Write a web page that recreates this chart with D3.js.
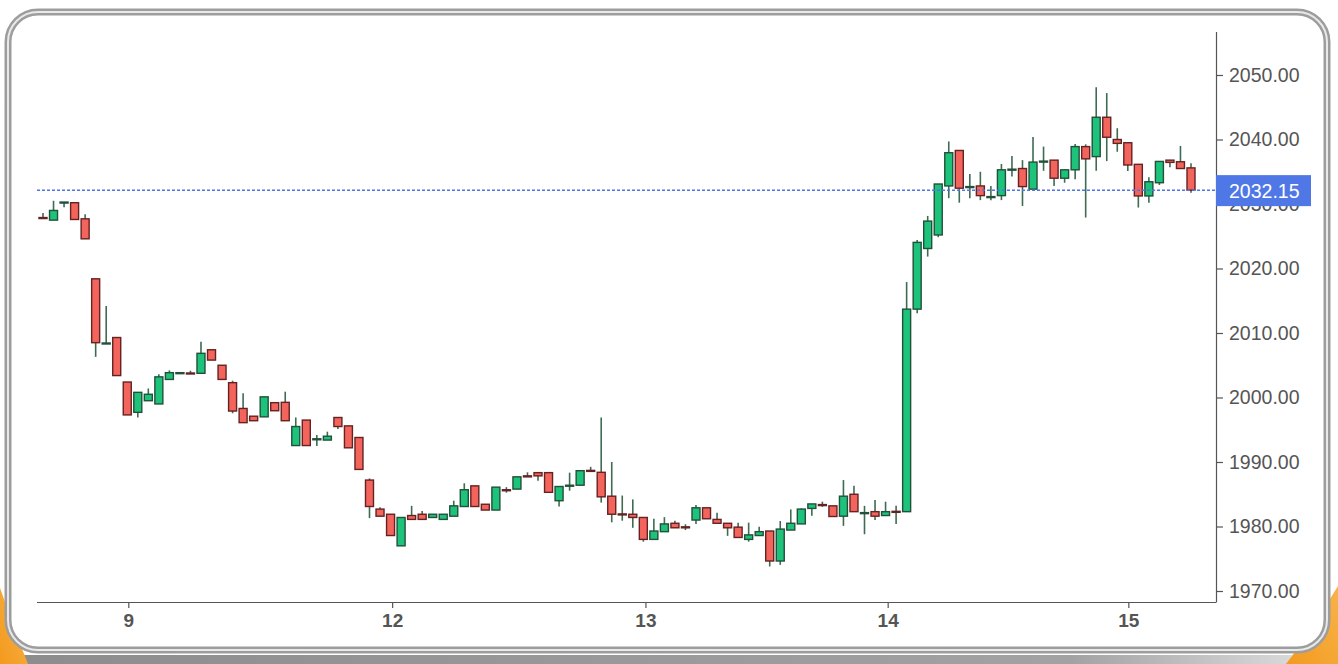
<!DOCTYPE html>
<html>
<head>
<meta charset="utf-8">
<script src="https://cdn.jsdelivr.net/npm/d3@7"></script>
<style>
	body { margin: 0; background: #fff; }
	svg { display: block; }
	text { font-family: "Liberation Sans", Arial, sans-serif; }
</style>
</head>
<body>
<svg id="chart" width="1338" height="664"></svg>
<script>
var opens = [2027.9,2027.5,2030.2,2030.2,2027.7,2018.4,2008.4,2009.3,2002.4,1997.7,
	1999.5,1999.0,2002.8,2003.8,2003.8,2003.75,2007.4,2005.0,2002.3,1998.3,
	1997.1,1997.0,1999.2,1999.25,1992.55,1996.5,1993.55,1993.4,1996.9,1995.6,
	1993.8,1987.2,1982.7,1981.9,1977.0,1981.7,1981.9,1981.4,1981.1,1981.6,
	1983.1,1986.3,1983.45,1982.55,1985.7,1985.8,1987.85,1988.35,1988.35,1984.0,
	1986.35,1986.4,1988.7,1988.4,1984.7,1981.95,1981.9,1981.4,1978.0,1979.2,
	1980.5,1979.95,1981.0,1982.9,1981.1,1980.5,1979.9,1978.0,1978.6,1979.3,
	1974.65,1979.45,1980.4,1982.8,1983.4,1983.2,1981.6,1985.0,1982.1,1982.3,
	1981.7,1982.35,1982.3,2013.7,2023.1,2025.2,2032.8,2038.3,2032.65,2032.8,
	2031.1,2031.3,2035.35,2035.5,2032.3,2036.6,2036.8,2034.0,2035.3,2038.9,
	2037.35,2043.45,2040.0,2039.5,2036.15,2031.25,2033.3,2036.8,2036.55,2035.6];
var highs = [2028.6,2030.5,2030.3,2030.2,2028.4,2018.4,2014.2,2009.3,2002.4,2000.8,
	2001.4,2003.6,2004.2,2003.85,2004.15,2008.65,2007.4,2005.0,2002.6,2000.65,
	1997.1,2000.1,1999.2,2000.9,1996.9,1996.5,1994.2,1994.7,1996.9,1995.6,
	1993.8,1987.45,1983.0,1981.9,1981.4,1983.2,1982.4,1981.9,1981.9,1984.0,
	1986.7,1986.3,1983.45,1986.1,1986.1,1987.7,1988.4,1988.35,1988.35,1986.2,
	1988.35,1988.65,1989.25,1996.9,1990.0,1984.8,1984.2,1981.4,1981.2,1981.45,
	1980.9,1980.35,1983.35,1982.9,1982.15,1980.5,1980.6,1980.6,1979.95,1979.3,
	1980.85,1982.65,1982.8,1983.5,1983.85,1983.2,1987.2,1986.3,1983.2,1984.1,
	1983.85,1983.2,2017.9,2024.4,2028.15,2033.1,2039.7,2038.3,2034.65,2035.0,
	2032.8,2036.2,2037.45,2036.8,2040.4,2038.9,2036.8,2035.3,2039.3,2039.25,
	2048.1,2047.2,2041.75,2039.5,2036.15,2034.15,2036.6,2036.8,2039.0,2036.3];
var lows = [2027.85,2027.5,2029.5,2027.6,2024.6,2006.3,2008.4,2003.4,1997.3,1996.9,
	1999.5,1999.0,2002.8,2003.8,2003.75,2003.75,2005.8,2002.8,1997.55,1996.1,
	1996.4,1997.0,1997.95,1996.4,1992.55,1992.55,1992.5,1993.4,1995.1,1992.2,
	1988.85,1981.3,1981.6,1978.6,1977.0,1981.1,1981.1,1981.4,1981.1,1981.6,
	1983.1,1983.1,1982.55,1982.55,1985.25,1985.8,1987.8,1987.1,1985.3,1983.1,
	1985.55,1986.4,1988.65,1983.7,1980.65,1980.9,1979.8,1977.65,1978.0,1979.2,
	1979.8,1979.45,1980.4,1981.2,1980.5,1978.55,1978.3,1977.65,1978.6,1973.8,
	1974.05,1979.45,1980.4,1981.65,1983.05,1981.55,1980.1,1982.3,1978.8,1981.0,
	1981.7,1980.4,1982.3,2013.05,2021.85,2024.85,2030.9,2030.2,2030.9,2030.6,
	2030.6,2030.6,2034.25,2029.7,2032.3,2035.15,2032.8,2033.3,2033.85,2027.9,
	2035.15,2036.65,2038.1,2035.1,2029.45,2030.2,2032.95,2035.7,2035.5,2031.75];
var closes = [2027.85,2029.0,2030.3,2027.6,2024.6,2008.5,2008.45,2003.4,1997.3,2000.8,
	2000.5,2003.2,2003.85,2003.85,2003.75,2006.85,2005.8,2002.8,1997.9,1996.1,
	1996.4,2000.1,1997.95,1996.4,1995.5,1992.55,1993.6,1994.0,1995.5,1992.2,
	1988.85,1983.1,1981.6,1978.6,1981.4,1981.1,1981.1,1981.9,1981.9,1983.2,
	1985.7,1983.1,1982.55,1986.1,1985.65,1987.7,1987.8,1987.85,1985.3,1986.2,
	1986.4,1988.65,1988.65,1984.6,1981.9,1981.9,1981.4,1978.0,1979.3,1980.4,
	1979.8,1979.9,1982.9,1981.2,1980.5,1979.8,1978.3,1978.7,1979.2,1974.65,
	1979.6,1980.5,1982.7,1983.5,1983.35,1981.55,1984.7,1982.3,1982.15,1981.6,
	1982.3,1982.3,2013.7,2024.05,2027.35,2033.1,2037.95,2032.45,2032.7,2031.3,
	2031.15,2035.3,2035.4,2032.7,2036.5,2036.65,2034.0,2035.3,2038.9,2037.0,
	2043.45,2040.35,2039.4,2036.05,2031.25,2033.45,2036.6,2036.45,2035.5,2032.15];

var priceTicks = [1970,1980,1990,2000,2010,2020,2030,2040,2050];
var dayTickIndex = [8.1, 33.15, 57.2, 80.2, 103.05];
var dayTickLabels = ['9','12','13','14','15'];
var lastPrice = 2032.15;

var svg = d3.select("#chart");

// frame and corner decoration
var defs = svg.append("defs");
var band = defs.append("linearGradient").attr("id","band");
band.append("stop").attr("offset","0%").attr("stop-color","#8c8c8c");
band.append("stop").attr("offset","80%").attr("stop-color","#a2a2a2");
band.append("stop").attr("offset","100%").attr("stop-color","#e4e4e4");
var orange = defs.append("linearGradient").attr("id","orange")
	.attr("x1","0").attr("y1","1").attr("x2","1").attr("y2","0");
orange.append("stop").attr("offset","0%").attr("stop-color","#f39a1e");
orange.append("stop").attr("offset","100%").attr("stop-color","#f7b34a");

svg.append("rect").attr("x",0).attr("y",655).attr("width",1338).attr("height",9).attr("fill","url(#band)");
svg.append("path").attr("d","M0,588 C10,615 18,640 28,664 L0,664 Z").attr("fill","url(#orange)");
svg.append("path").attr("d","M1338,586 L1338,664 L1286,664 C1305,640 1322,612 1338,586 Z").attr("fill","url(#orange)");

svg.append("rect").attr("x",8).attr("y",12).attr("width",1319).attr("height",638)
	.attr("rx",30).attr("fill","#fff").attr("stroke","#9d9d9d").attr("stroke-width",7);
svg.append("rect").attr("x",8).attr("y",12).attr("width",1319).attr("height",638)
	.attr("rx",30).attr("fill","none").attr("stroke","#e9e9e9").attr("stroke-width",2);

var xscale = d3.scaleLinear().domain([0, opens.length-1]).range([43, 1191]);
var yscale = d3.scaleLinear().domain([1970, 2050]).range([591, 75]);

// axes
var yAxis = d3.axisRight(yscale).tickValues(priceTicks).tickFormat(d3.format(".2f"))
	.tickSize(7).tickPadding(6).tickSizeOuter(0);
var gy = svg.append("g").attr("transform","translate(1216,0)").call(yAxis);
gy.select(".domain").attr("d","M0.5,32V602.5").attr("stroke","#555").attr("stroke-width",1.2);
gy.selectAll(".tick line").attr("stroke","#555").attr("stroke-width",1.2);
gy.selectAll(".tick text").attr("fill","#555").style("font-size","19.5px");

var xAxis = d3.axisBottom(xscale).tickValues(dayTickIndex)
	.tickFormat((d,i) => dayTickLabels[i]).tickSize(6).tickPadding(6).tickSizeOuter(0);
var gx = svg.append("g").attr("transform","translate(0,602)").call(xAxis);
gx.select(".domain").attr("d","M37,0.5H1216").attr("stroke","#555").attr("stroke-width",1.2);
gx.selectAll(".tick line").attr("stroke","#555").attr("stroke-width",1.2);
gx.selectAll(".tick text").attr("fill","#555").style("font-size","19px").style("font-weight","bold");

// candles
var data = opens.map((o,i) => ({i:i, o:o, h:highs[i], l:lows[i], c:closes[i]}));
var bw = 8;
var g = svg.append("g");
g.selectAll("line.wick").data(data).enter().append("line")
	.attr("class","wick")
	.attr("x1", d => xscale(d.i)).attr("x2", d => xscale(d.i))
	.attr("y1", d => yscale(d.h)).attr("y2", d => yscale(d.l))
	.attr("stroke","#3e6b52").attr("stroke-width",1.6);
g.selectAll("rect.body").data(data).enter().append("rect")
	.attr("class","body")
	.attr("x", d => xscale(d.i) - bw/2)
	.attr("y", d => yscale(Math.max(d.o,d.c)))
	.attr("width", bw)
	.attr("height", d => Math.max(1, Math.abs(yscale(d.o) - yscale(d.c))))
	.attr("fill", d => d.c > d.o ? "#1dc27b" : "#f3655c")
	.attr("stroke", d => d.c > d.o ? "#22503a" : "#642222")
	.attr("stroke-width",1.4);

// last price line and tag
svg.append("line").attr("x1",37).attr("x2",1216)
	.attr("y1",yscale(lastPrice)).attr("y2",yscale(lastPrice))
	.attr("stroke","#4f74ea").attr("stroke-width",1.5).attr("stroke-dasharray","3,2");
svg.append("rect").attr("x",1216).attr("y",yscale(lastPrice)-15).attr("width",95).attr("height",31)
	.attr("fill","#4f78e6");
svg.append("text").attr("x",1229).attr("y",yscale(lastPrice)+7.5)
	.attr("fill","#fff").style("font-size","19.5px").text(d3.format(".2f")(lastPrice));
</script>
</body>
</html>
